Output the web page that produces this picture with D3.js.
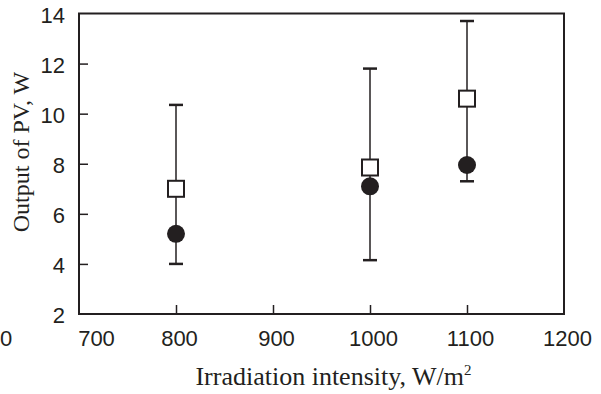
<!DOCTYPE html>
<html><head><meta charset="utf-8">
<script src="https://cdn.jsdelivr.net/npm/d3@7"></script>
<style>body{margin:0;background:#fff}svg{display:block}</style>
</head><body><svg id="c" width="601" height="394"></svg>
<script>
// ---- data ----
const irradiance   = [800, 1000, 1100];          // W/m2
const outputOpen   = [7.0, 7.85, 10.6];          // open squares, W
const outputFilled = [5.2, 7.1, 7.95];           // filled circles, W
const errLow       = [4.0, 4.15, 7.3];           // lower whisker, W
const errHigh      = [10.35, 11.8, 13.7];        // upper whisker, W
const xTicks = [700, 800, 900, 1000, 1100, 1200];
const yTicks = [2, 4, 6, 8, 10, 12, 14];
const xTitle = "Irradiation intensity, W/m";
const yTitle = "Output of PV, W";
const strayLabel = "0";                          // cropped label fragment at far left

const ink = "#231f20";
const svg = d3.select("#c");
const m = {l:79, t:13.5, r:564, b:314};
const x = d3.scaleLinear().domain([700, 1200]).range([m.l, m.r]);
const y = d3.scaleLinear().domain([2, 14]).range([m.b, m.t]);
const tickFont = "'Liberation Sans', Arial, Helvetica, sans-serif";
const serif = "'Liberation Serif', 'Times New Roman', Times, serif";

// axes (inward ticks)
const gx = svg.append("g").attr("transform", `translate(0,${m.b})`)
  .call(d3.axisBottom(x).tickValues(xTicks).tickSizeInner(-9).tickSizeOuter(0).tickPadding(16).tickFormat(d3.format("d")));
const gy = svg.append("g").attr("transform", `translate(${m.l},0)`)
  .call(d3.axisLeft(y).tickValues(yTicks).tickSizeInner(-9).tickSizeOuter(0).tickPadding(14).tickFormat(d3.format("d")));
[gx, gy].forEach(g => {
  g.select(".domain").remove();
  g.selectAll("line").attr("stroke", ink).attr("stroke-width", 1.5);
  g.selectAll("text").attr("fill", ink).style("font-family", tickFont).style("font-size", "22px");
});
gx.selectAll(".tick text").attr("dx", d => d === xTicks[0] ? 17 : 3);
gy.selectAll(".tick text").attr("dy", "0.4em");
// hide ticks at frame edges
gx.selectAll(".tick").filter(d => d === 700 || d === 1200).select("line").remove();
gy.selectAll(".tick").filter(d => d === 2 || d === 14).select("line").remove();

// label fragment at far left of the reference
svg.append("text").attr("x", 0).attr("y", m.b + 16).attr("dy", "0.71em")
  .attr("text-anchor", "start").attr("fill", ink)
  .style("font-family", tickFont).style("font-size", "22px").text(strayLabel);

// frame
svg.append("rect").attr("x", m.l).attr("y", m.t).attr("width", m.r - m.l).attr("height", m.b - m.t)
  .attr("fill", "none").attr("stroke", ink).attr("stroke-width", 2);

// error bars
const rows = irradiance.map((v, i) => ({x: v, lo: errLow[i], hi: errHigh[i], sq: outputOpen[i], ci: outputFilled[i]}));
const eb = svg.append("g");
eb.selectAll("line.v").data(rows).join("line").attr("class", "v")
  .attr("x1", d => x(d.x)).attr("x2", d => x(d.x))
  .attr("y1", d => y(d.lo)).attr("y2", d => y(d.hi))
  .attr("stroke", ink).attr("stroke-width", 1.5);
["lo", "hi"].forEach(k => {
  eb.selectAll("line.c" + k).data(rows).join("line").attr("class", "c" + k)
    .attr("x1", d => x(d.x) - 7).attr("x2", d => x(d.x) + 7)
    .attr("y1", d => y(d[k])).attr("y2", d => y(d[k]))
    .attr("stroke", ink).attr("stroke-width", 2.5);
});

// filled circles
svg.append("g").selectAll("circle").data(rows).join("circle")
  .attr("cx", d => x(d.x)).attr("cy", d => y(d.ci)).attr("r", 9).attr("fill", ink);
// open squares
const s = 16;
svg.append("g").selectAll("rect").data(rows).join("rect")
  .attr("x", d => x(d.x) - s / 2).attr("y", d => y(d.sq) - s / 2)
  .attr("width", s).attr("height", s)
  .attr("fill", "#fff").attr("stroke", ink).attr("stroke-width", 2);

// titles
const xt = svg.append("text").attr("x", 333.5).attr("y", 385).attr("text-anchor", "middle")
  .attr("fill", ink).style("font-family", serif).style("font-size", "26px");
xt.append("tspan").text(xTitle);
xt.append("tspan").attr("dy", -10).style("font-size", "15px").text("2");

svg.append("text").attr("transform", "translate(29,152) rotate(-90)").attr("text-anchor", "middle")
  .attr("fill", ink).style("font-family", serif).style("font-size", "24px").text(yTitle);
</script>
</body></html>
